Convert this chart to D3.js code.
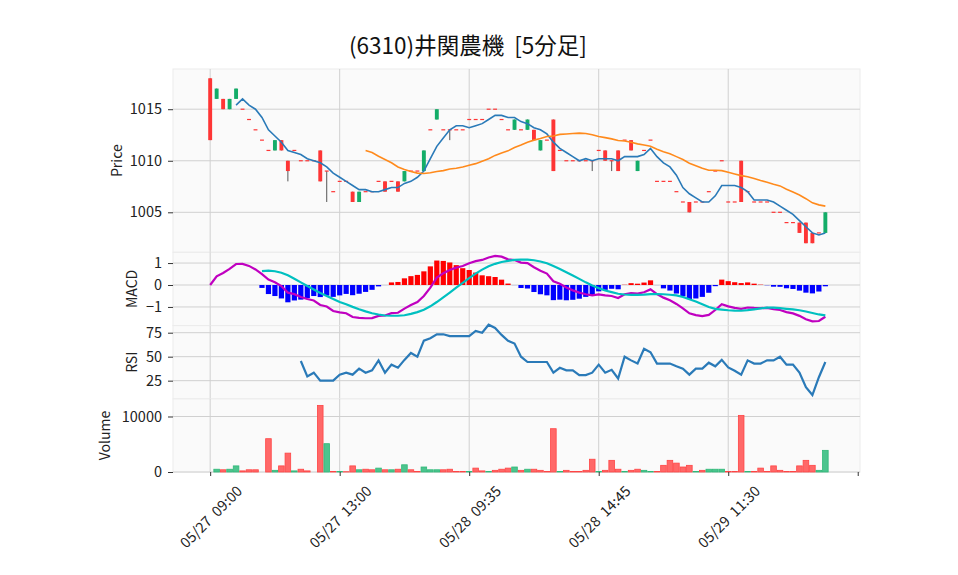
<!DOCTYPE html>
<html>
<head>
<meta charset="utf-8">
<script src="https://cdn.jsdelivr.net/npm/d3@7"></script>
<style>
  body { margin: 0; background: #fff; }
  text { font-family: "Noto Sans CJK JP", "Noto Sans", sans-serif; }
</style>
</head>
<body>
<div class="chart"></div>
<script>
  const width = 958
  const height = 575
  const left = 173
  const right = 860

  // 5-minute bars
  const opens = [1018,1016,1016,1015,1016,1015,1014,1013,1012,1011,1011,1012,1010,1011,1010,1010,1010,1011,1009,1007,
    1008,1008,1007,1006,1007,1007,1008,1008,1008,1008,1008,1009,1009,1009,1013,1014,1013,1013,1013,1013,
    1014,1014,1014,1015,1015,1014,1013,1013,1013,1013,1013,1011,1012,1014,1011,1010,1010,1010,1010,1010,
    1011,1011,1010,1011,1012,1012,1009,1011,1012,1008,1008,1008,1007,1006,1006,1006,1006,1007,1009,1010,
    1006,1006,1010,1007,1006,1006,1006,1005,1005,1004,1004,1004,1004,1003,1003,1003]
  const closes = [1012,1017,1015,1016,1017,1015,1014,1013,1012,1011,1012,1011,1009,1011,1010,1010,1010,1008,1009,1007,
    1008,1008,1006,1007,1007,1007,1008,1007,1008,1007,1009,1009,1009,1011,1013,1015,1013,1013,1013,1013,
    1014,1014,1014,1015,1015,1014,1013,1014,1013,1014,1012,1012,1012,1009,1011,1010,1010,1010,1010,1010,
    1011,1010,1010,1009,1012,1011,1010,1011,1012,1008,1008,1008,1007,1006,1005,1006,1006,1007,1009,1010,
    1006,1006,1006,1007,1006,1006,1006,1005,1005,1004,1004,1003,1002,1002,1003,1005]
  // bars whose wick reaches past the body
  const lowWicks = { 12: 1008, 18: 1006, 37: 1012, 59: 1009, 62: 1009 }
  const volumes = [0,500,400,500,1100,200,400,400,0,6000,300,1100,3400,200,500,200,0,12000,5100,100,
    100,50,1100,400,500,400,700,400,400,500,1300,400,100,900,400,400,400,500,100,100,
    100,700,200,100,300,500,700,900,300,500,500,300,100,7800,100,300,100,100,300,2300,
    100,300,2100,500,100,300,500,300,100,100,1200,2100,1600,900,1200,100,300,500,500,500,
    100,100,10200,100,100,700,100,1100,300,100,100,1100,2100,1200,300,3900]

  const tickIdx = [0, 20, 40, 60, 80, 100]
  const tickLabels = ['05/27  09:00', '05/27  13:00', '05/28  09:35', '05/28  14:45', '05/29  11:30', '']

  const bars = closes.map((c, i) => ({
    i: i,
    open: opens[i],
    close: c,
    high: Math.max(opens[i], c),
    low: lowWicks[i] !== undefined ? lowWicks[i] : Math.min(opens[i], c),
    volume: volumes[i],
  }))

  // indicators derived from the closes, as the original chart does
  function sma(arr, n) {
    return arr.map((v, i) => i < n - 1 ? null : d3.mean(arr.slice(i - n + 1, i + 1)))
  }
  function ema(arr, n) {
    const a = 2 / (n + 1)
    let prev = arr[0]
    return arr.map((v, i) => (prev = i === 0 ? v : a * v + (1 - a) * prev))
  }
  const ma5 = sma(closes, 5)
  const ma25 = sma(closes, 25)
  const ema12 = ema(closes, 12)
  const ema26 = ema(closes, 26)
  const macd = ema12.map((v, i) => v - ema26[i])
  const signal = sma(macd, 9)
  const hist = macd.map((v, i) => signal[i] === null ? null : v - signal[i])
  const diffs = closes.map((c, i) => i === 0 ? 0 : c - closes[i - 1])
  const rsi = closes.map((c, i) => {
    if (i < 14) return null
    const w = diffs.slice(i - 13, i + 1)
    const g = d3.sum(w, d => Math.max(d, 0))
    const l = d3.sum(w, d => Math.max(-d, 0))
    return g + l === 0 ? 50 : 100 * g / (g + l)
  })

  const x = d3.scaleLinear().domain([-5.74, 100.35]).range([left, right])
  const yPrice = d3.scaleLinear().domain([1001.12, 1018.9]).range([252.3, 69])
  const yMacd = d3.scaleLinear().domain([-1.85, 1.49]).range([325.6, 252.3])
  const yRsi = d3.scaleLinear().domain([6, 82.4]).range([398.9, 325.6])
  const yVol = d3.scaleLinear().domain([0, 13170]).range([472, 398.9])

  const panels = [
    { y: yPrice, ticks: [1005, 1010, 1015], label: 'Price', lx: 116 },
    { y: yMacd, ticks: [-1, 0, 1], label: 'MACD', lx: 131 },
    { y: yRsi, ticks: [25, 50, 75], label: 'RSI', lx: 131 },
    { y: yVol, ticks: [0, 10000], label: 'Volume', lx: 104 },
  ]

  const svg = d3.select('.chart').append('svg')
    .attr('width', width)
    .attr('height', height)

  svg.append('text')
    .attr('x', 468)
    .attr('y', 54)
    .attr('text-anchor', 'middle')
    .attr('font-size', '22.5px')
    .attr('fill', '#111')
    .style('white-space', 'pre')
    .text('(6310)井関農機  [5分足]')

  panels.forEach(p => {
    const [y0, y1] = p.y.range()
    const g = svg.append('g')
    g.append('rect')
      .attr('x', left)
      .attr('y', y1)
      .attr('width', right - left)
      .attr('height', y0 - y1)
      .attr('fill', '#fafafa')
      .attr('stroke', '#ececec')

    g.selectAll('.hgrid')
      .data(p.ticks)
      .join('line')
      .attr('x1', left)
      .attr('x2', right)
      .attr('y1', d => p.y(d))
      .attr('y2', d => p.y(d))
      .attr('stroke', '#d0d0d0')
      .attr('stroke-width', 1)

    g.selectAll('.vgrid')
      .data(tickIdx.slice(0, 5))
      .join('line')
      .attr('x1', d => x(d))
      .attr('x2', d => x(d))
      .attr('y1', y1)
      .attr('y2', y0)
      .attr('stroke', '#d0d0d0')
      .attr('stroke-width', 1)

    const axis = d3.axisLeft(p.y)
      .tickValues(p.ticks)
      .tickFormat(d3.format('d'))
      .tickSize(5)
      .tickPadding(6)
    const ag = svg.append('g')
      .attr('transform', `translate(${left}, 0)`)
      .style('font-size', '14.5px')
      .call(axis)
    ag.select('.domain').remove()
    ag.selectAll('.tick line').attr('stroke', '#333')
    ag.selectAll('.tick text').attr('fill', '#222').style('font-family', '"Noto Sans CJK JP", "Noto Sans", sans-serif')

    svg.append('text')
      .attr('transform', `translate(${p.lx}, ${(y0 + y1) / 2}) rotate(-90)`)
      .attr('text-anchor', 'middle')
      .attr('dominant-baseline', 'central')
      .attr('font-size', '14px')
      .attr('fill', '#222')
      .text(p.label)
  })

  // candles
  const bw = 3.9
  const candle = svg.append('g').selectAll('g')
    .data(bars)
    .join('g')
  candle.append('line')
    .attr('x1', d => x(d.i))
    .attr('x2', d => x(d.i))
    .attr('y1', d => yPrice(d.high))
    .attr('y2', d => yPrice(d.low))
    .attr('stroke', '#555')
    .attr('stroke-width', 1)
  candle.append('rect')
    .attr('x', d => x(d.i) - bw / 2)
    .attr('y', d => d.open === d.close ? yPrice(d.close) - 0.6 : yPrice(Math.max(d.open, d.close)))
    .attr('width', bw)
    .attr('height', d => Math.max(1.2, Math.abs(yPrice(d.open) - yPrice(d.close))))
    .attr('fill', d => d.open < d.close ? '#13ad68' : '#fe3535')

  const line = (ys, scale) => d3.line()
    .defined(d => d !== null)
    .x((d, i) => x(i))
    .y(d => scale(d))(ys)

  svg.append('path')
    .attr('d', line(ma5, yPrice))
    .attr('fill', 'none')
    .attr('stroke', '#2a7ab8')
    .attr('stroke-width', 1.6)
  svg.append('path')
    .attr('d', line(ma25, yPrice))
    .attr('fill', 'none')
    .attr('stroke', '#ff8a1c')
    .attr('stroke-width', 1.6)

  // macd
  svg.append('g').selectAll('rect')
    .data(hist.map((v, i) => ({ i: i, v: v })).filter(d => d.v !== null))
    .join('rect')
    .attr('x', d => x(d.i) - 2.6)
    .attr('y', d => yMacd(Math.max(0, d.v)))
    .attr('width', 5.2)
    .attr('height', d => Math.abs(yMacd(d.v) - yMacd(0)))
    .attr('fill', d => d.v >= 0 ? '#ff0000' : '#0000ff')
  svg.append('path')
    .attr('d', line(macd, yMacd))
    .attr('fill', 'none')
    .attr('stroke', '#c000c0')
    .attr('stroke-width', 2.2)
  svg.append('path')
    .attr('d', line(signal, yMacd))
    .attr('fill', 'none')
    .attr('stroke', '#00c0c0')
    .attr('stroke-width', 2.2)

  // rsi
  svg.append('path')
    .attr('d', line(rsi, yRsi))
    .attr('fill', 'none')
    .attr('stroke', '#2a7ab8')
    .attr('stroke-width', 2.2)

  // volume, coloured by change from the previous close
  const volUp = d => d.i === 0 ? d.open < d.close : closes[d.i - 1] < d.close
  svg.append('g').selectAll('rect')
    .data(bars)
    .join('rect')
    .attr('x', d => x(d.i) - 2.8)
    .attr('y', d => yVol(d.volume))
    .attr('width', 5.6)
    .attr('height', d => yVol(0) - yVol(d.volume))
    .attr('fill', d => volUp(d) ? '#4cc48e' : '#ff6868')
    .attr('stroke', d => volUp(d) ? '#2fb878' : '#ff4444')
    .attr('stroke-width', d => d.volume > 0 ? 0.8 : 0)

  // x axis
  const xg = svg.append('g')
    .attr('transform', 'translate(0, 472)')
    .call(d3.axisBottom(x).tickValues(tickIdx).tickSize(4).tickFormat(''))
  xg.select('.domain').remove()
  xg.selectAll('.tick line').attr('stroke', '#333')

  svg.append('g').selectAll('text')
    .data(tickIdx.slice(0, 5))
    .join('text')
    .attr('transform', d => `translate(${x(d)}, 516) rotate(-45)`)
    .attr('text-anchor', 'middle')
    .attr('dominant-baseline', 'central')
    .attr('font-size', '14.5px')
    .attr('fill', '#222')
    .style('white-space', 'pre')
    .text((d, i) => tickLabels[i])
</script>
</body>
</html>
